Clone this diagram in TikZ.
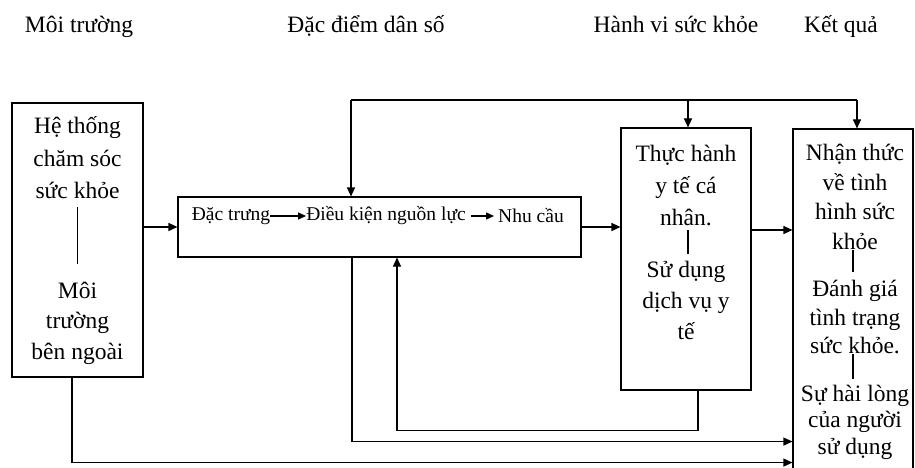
\documentclass[tikz,border=0pt]{standalone}
\usepackage{fontspec}
\setmainfont{Liberation Serif}
\usetikzlibrary{arrows.meta}
\begin{document}
\begin{tikzpicture}[x=1pt,y=-1pt,
  box/.style={draw, line width=1.1pt, inner sep=0pt},
  ln/.style={line width=1.1pt},
  arr/.style={line width=1.1pt, -{Triangle[length=9pt,width=8pt]}},
  sarr/.style={line width=1.1pt, -{Triangle[length=8pt,width=7pt]}},
  head/.style={font=\fontsize{23.5}{28}\selectfont, inner sep=0pt, anchor=base},
  txt/.style={align=center, inner sep=0pt},
  small/.style={font=\fontsize{19.5}{23}\selectfont, inner sep=0pt}
]
\useasboundingbox (0,0) rectangle (915,468);
\clip (0,0) rectangle (915,468);
\fill[white] (0,0) rectangle (915,468);

% column headings
\node[head] (h1) at (79,33) {Môi trường};
\node[head] (h2) at (366,33) {Đặc điểm dân số};
\node[head] (h3) at (676,33) {Hành vi sức khỏe};
\node[head] (h4) at (841,33) {Kết quả};

% boxes
\node[box, minimum width=131pt, minimum height=274pt] (lbox) at (77.5,240) {};
\node[box, minimum width=403pt, minimum height=60pt] (mid) at (379.5,227) {};
\node[box, minimum width=130pt, minimum height=262pt] (th) at (686,259) {};
\node[box, minimum width=120pt, minimum height=362pt] (kq) at (853,310) {};

% environment box contents
\node[txt, font=\fontsize{23.5}{32.5}\selectfont] (lt) at (77.5,158) {Hệ thống\\chăm sóc\\sức khỏe};
\node[txt, font=\fontsize{23.5}{30.5}\selectfont] (lb) at (77.5,323) {Môi\\trường\\bên ngoài};
\draw[ln, shorten <=8pt, shorten >=18pt] (lt.south) -- (lb.north);

% population characteristics chain
\node[small] (d1) at (231,216) {Đặc trưng};
\node[small] (d2) at (386,216) {Điều kiện nguồn lực};
\node[small] (d3) at (531,216) {Nhu cầu};
\draw[sarr] (d1.east) -- (d2.west);
\draw[sarr, shorten <=5pt, shorten >=4pt] (d2.east) -- (d3.west);

% health behaviour box contents
\node[txt, font=\fontsize{23.5}{32}\selectfont] (ta) at (686,185) {Thực hành\\y tế cá\\nhân.};
\node[txt, font=\fontsize{23.5}{31}\selectfont] (tb) at (686,300) {Sử dụng\\dịch vụ y\\tế};
\draw[ln, shorten <=4pt, shorten >=7pt] ([xshift=2pt]ta.south) -- ([xshift=2pt]tb.north);

% outcome box contents
\node[txt, font=\fontsize{23.5}{29.5}\selectfont] (ka) at (855,197) {Nhận thức\\về tình\\hình sức\\khỏe};
\node[txt, font=\fontsize{23.5}{28.5}\selectfont] (kb) at (855,317) {Đánh giá\\tình trạng\\sức khỏe.};
\node[txt, font=\fontsize{23.5}{26.5}\selectfont] (kc) at (855,422) {Sự hài lòng\\của người\\sử dụng};
\draw[ln, shorten <=0pt, shorten >=8pt] ([xshift=-2pt]ka.south) -- ([xshift=-2pt]kb.north);
\draw[ln, shorten <=0pt, shorten >=6pt] ([xshift=-2pt]kb.south) -- ([xshift=-2pt]kc.north);

% top feedback line
\coordinate (tl) at (351,100);
\coordinate (tm) at (688,100);
\coordinate (tr) at (857,100);
\draw[ln] (tl) -- (tr);
\draw[arr] (tl) -- (tl |- mid.north);
\draw[arr] (tm) -- (tm |- th.north);
\draw[arr] (tr) -- (tr |- kq.north);

% main flow
\draw[arr] (lbox.east |- mid.west) -- (mid.west);
\draw[arr] (mid.east) -- (mid.east -| th.west);
\draw[arr] ([yshift=29pt]th.east) -- ([yshift=29pt]th.east -| kq.west);

% return from behaviour to population characteristics
\draw[arr] ([xshift=12pt]th.south) -- ++(0,40) -| ([xshift=17.5pt]mid.south);

% lower links to outcomes
\draw[arr] ([xshift=-27.5pt]mid.south) -- ++(0,184) coordinate (b1) -- (b1 -| kq.west);
\draw[arr] ([xshift=-5.5pt]lbox.south) -- ++(0,85) coordinate (b2) -- (b2 -| kq.west);
\end{tikzpicture}
\end{document}
